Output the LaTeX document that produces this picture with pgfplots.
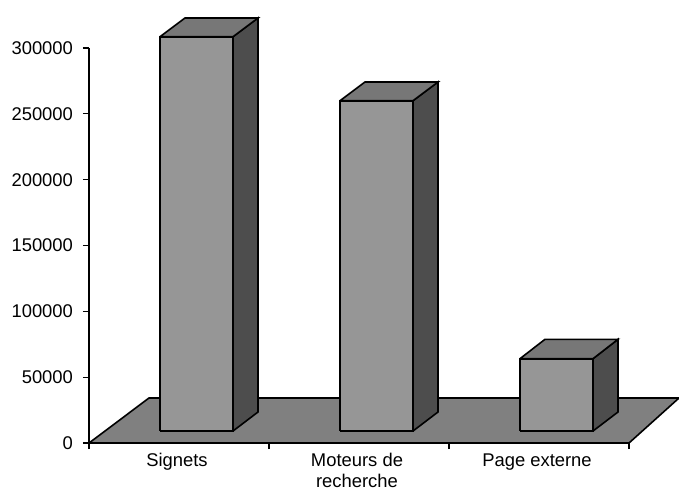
\documentclass[border=0pt]{standalone}
\usepackage{fontspec}
\setmainfont{Liberation Sans}
\usepackage{pgfplots}
\pgfplotsset{compat=1.18}
\definecolor{floorc}{HTML}{808080}
\definecolor{frontc}{HTML}{969696}
\definecolor{topc}{HTML}{777777}
\definecolor{sidec}{HTML}{4D4D4D}
\tikzset{face/.style={draw=black,line width=1.2pt,line join=miter,mark=none}}
\begin{document}
\begin{tikzpicture}
\path[use as bounding box] (-66.75pt,-38.25pt) rectangle (442.5pt,332.25pt);
\begin{axis}[
  scale only axis,
  width=405pt,
  height=296.25pt,
  xmin=0, xmax=3,
  ymin=0, ymax=300000,
  clip=false,
  axis x line=bottom,
  axis y line=left,
  axis line style={-,line width=0.9pt,black},
  tick style={black,line width=0.9pt},
  tick align=outside,
  major tick length=4.5pt,
  xtick={0.5,1.5,2.5},
  xticklabels={Signets,{Moteurs de\\recherche},Page externe},
  minor xtick={0,1,2,3},
  minor tick length=4.5pt,
  major x tick style={draw=none},
  ytick={0,50000,100000,150000,200000,250000,300000},
  scaled y ticks=false,
  /pgf/number format/fixed,
  /pgf/number format/assume math mode=true,
  /pgf/number format/1000 sep={},
  tick label style={font=\fontsize{13.8pt}{15.8pt}\selectfont},
  xticklabel style={align=center,xshift=-1.5pt,yshift=-2.2pt,inner sep=1pt},
  yticklabel style={xshift=-4pt},
]
% floor
\addplot[face,fill=floorc] coordinates {(0,0) (0.3333,34177) (3.2778,34177) (3,0) (0,0)};

% Signets
\addplot[face,fill=sidec] coordinates {(0.8,9100) (0.9389,23544) (0.9389,322785) (0.8,308582) (0.8,9100)};
\addplot[face,fill=topc] coordinates {(0.3944,308582) (0.5333,322785) (0.9389,322785) (0.8,308582) (0.3944,308582)};
\addplot[face,fill=frontc] coordinates {(0.3944,9100) (0.8,9100) (0.8,308582) (0.3944,308582) (0.3944,9100)};

% Moteurs de recherche
\addplot[face,fill=sidec] coordinates {(1.8,9100) (1.9389,23544) (1.9389,274177) (1.8,259975) (1.8,9100)};
\addplot[face,fill=topc] coordinates {(1.3944,259975) (1.5333,274177) (1.9389,274177) (1.8,259975) (1.3944,259975)};
\addplot[face,fill=frontc] coordinates {(1.3944,9100) (1.8,9100) (1.8,259975) (1.3944,259975) (1.3944,9100)};

% Page externe
\addplot[face,fill=sidec] coordinates {(2.8,9100) (2.9389,23544) (2.9389,78760) (2.8,64025) (2.8,9100)};
\addplot[face,fill=topc] coordinates {(2.3944,64025) (2.5333,78760) (2.9389,78760) (2.8,64025) (2.3944,64025)};
\addplot[face,fill=frontc] coordinates {(2.3944,9100) (2.8,9100) (2.8,64025) (2.3944,64025) (2.3944,9100)};
\end{axis}
\end{tikzpicture}
\end{document}
